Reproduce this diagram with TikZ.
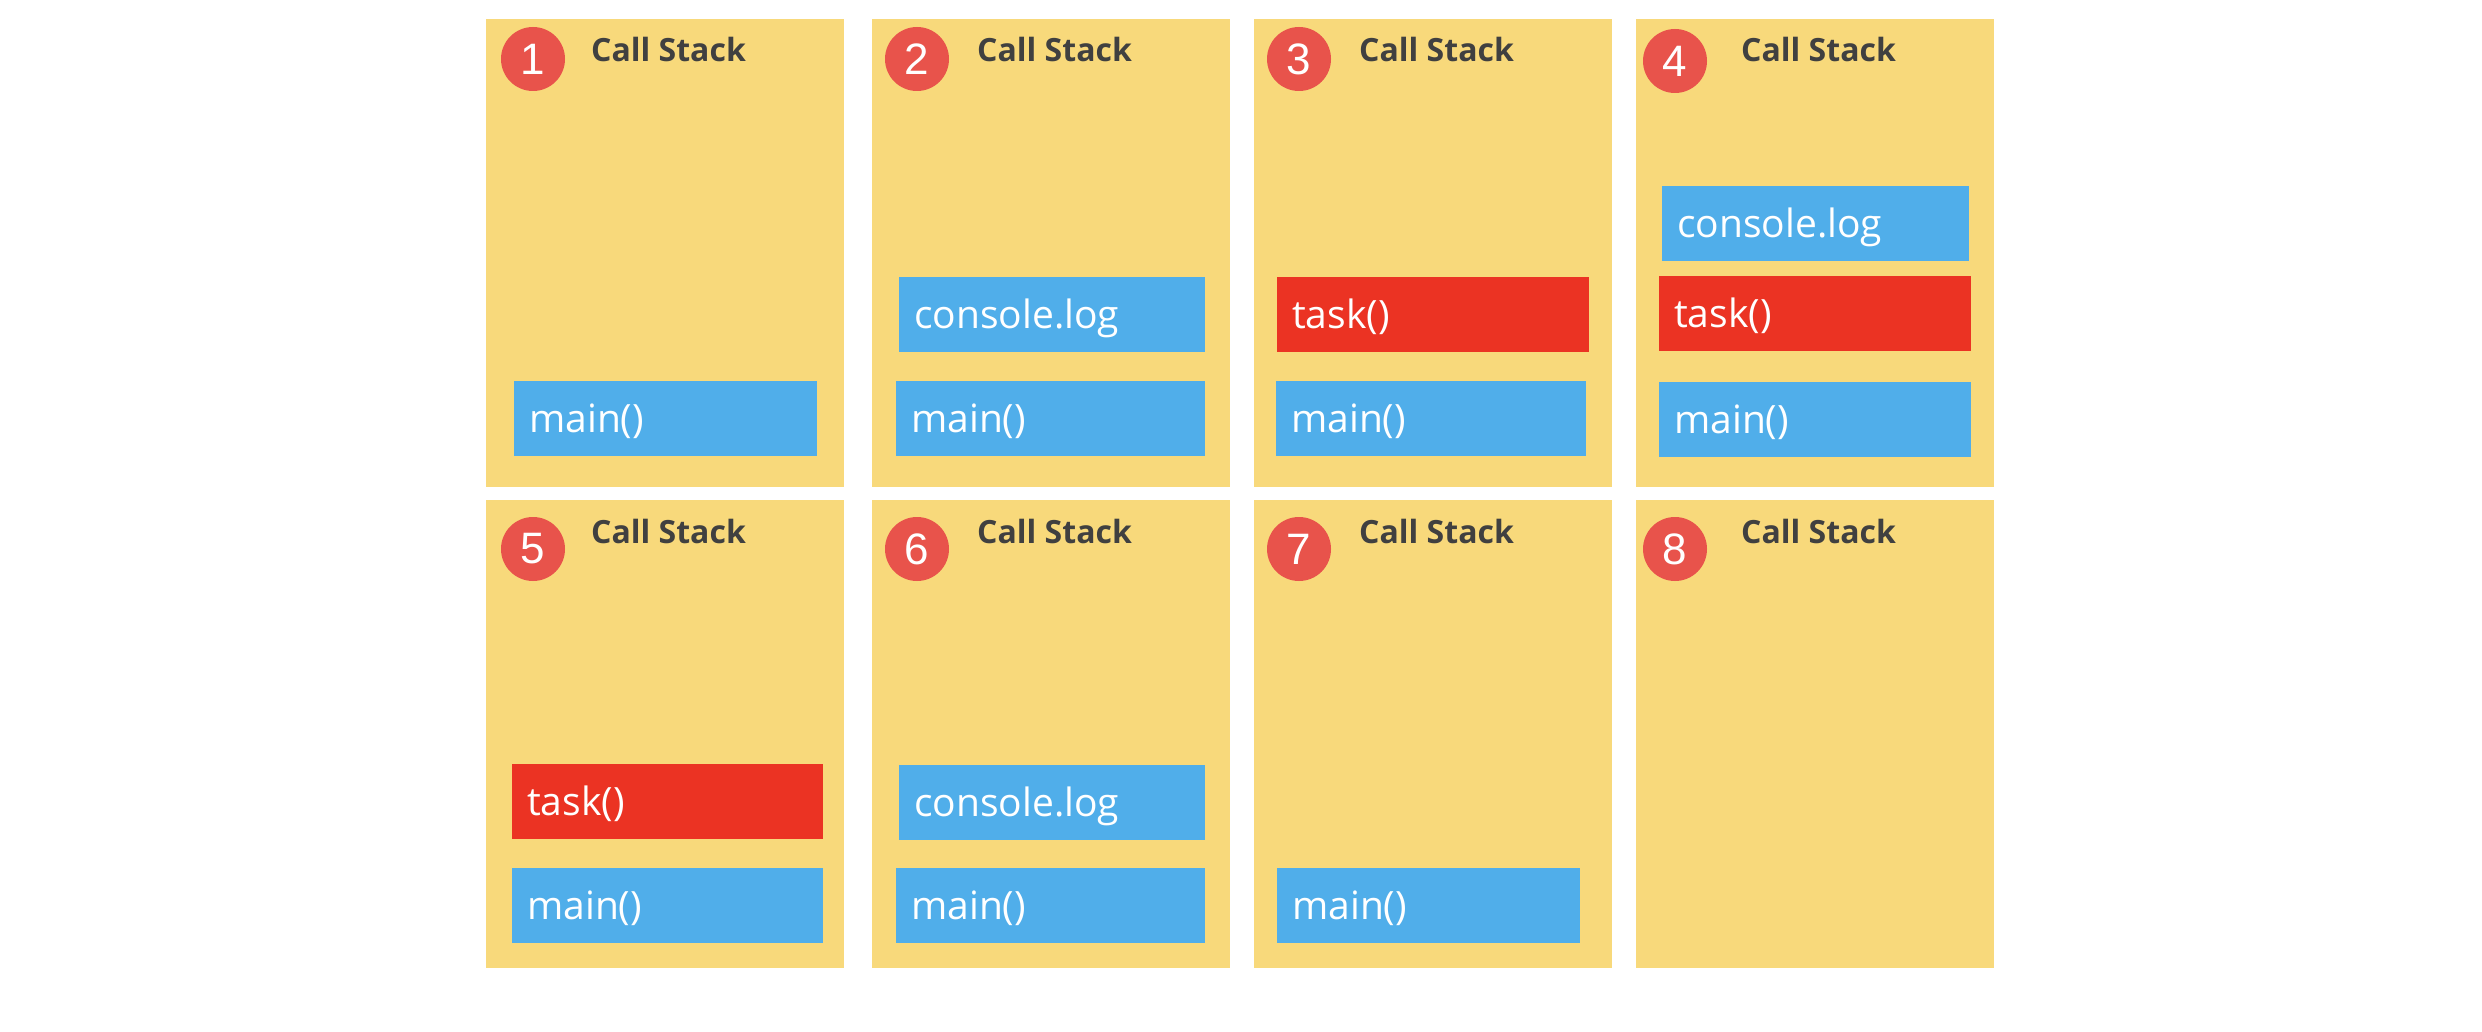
\documentclass[tikz,border=0pt]{standalone}
\usepackage{fontspec}
\setmainfont{Open Sans}
\newfontfamily\digitfont{Liberation Sans}
\usepackage{xcolor}

\definecolor{stackyellow}{RGB}{248,217,123}
\definecolor{frameblue}{RGB}{80,174,234}
\definecolor{framered}{RGB}{235,51,35}
\definecolor{badgered}{RGB}{232,83,75}
\definecolor{titlegray}{RGB}{64,64,64}

\tikzset{
  panel/.style={anchor=north west, fill=stackyellow, minimum width=358pt, minimum height=468pt, inner sep=0pt},
  badge/.style={circle, fill=badgered, minimum size=64pt, inner sep=0pt, text=white, font=\digitfont\fontsize{44}{44}\selectfont},
  title/.style={anchor=base west, inner sep=0pt, text=titlegray, font=\bfseries\fontsize{32}{32}\selectfont},
  slot/.style={anchor=north west, minimum height=75pt, inner xsep=15pt, inner ysep=0pt, text width=#1, text height=33pt, text depth=5pt, text=white, font=\fontsize{39}{39}\selectfont},
  slot/.default=280pt,
  callframe/.style={slot=#1, fill=frameblue}, callframe/.default=280pt,
  taskframe/.style={slot=#1, fill=framered}, taskframe/.default=280pt,
}

\begin{document}
\begin{tikzpicture}[x=1pt,y=-1pt]
        \path[use as bounding box] (0,0) rectangle (2482,1032);
        
        %Shape: Panels with badge and title
        \foreach \n/\x/\y/\bx/\by in {1/486/19/47/40, 2/872/19/45/40, 3/1254/19/45/40, 4/1636/19/39/42,
                                      5/486/500/47/49, 6/872/500/45/49, 7/1254/500/45/49, 8/1636/500/39/49} {
          \node[panel] (p\n) at (\x,\y) {};
          \node[badge] (b\n) at ([shift={(\bx,\by)}]p\n.north west) {\n};
          \node[title] (t\n) at ([shift={(105,43)}]p\n.north west) {Call Stack};
        }
        
        % Frames, row 1
        \node[callframe=273pt] (main1) at (514,381) {main()};
        \node[callframe=276pt] (log2) at (899,277) {console.log};
        \node[callframe=279pt] (main2) at (896,381) {main()};
        \node[taskframe=282pt] (task3) at (1277,277) {task()};
        \node[callframe=280pt] (main3) at (1276,381) {main()};
        \node[callframe=277pt] (log4) at (1662,186) {console.log};
        \node[taskframe=282pt] (task4) at (1659,276) {task()};
        \node[callframe=282pt] (main4) at (1659,382) {main()};
        
        % Frames, row 2
        \node[taskframe=281pt] (task5) at (512,764) {task()};
        \node[callframe=281pt] (main5) at (512,868) {main()};
        \node[callframe=276pt] (log6) at (899,765) {console.log};
        \node[callframe=279pt] (main6) at (896,868) {main()};
        \node[callframe=273pt] (main7) at (1277,868) {main()};
        
\end{tikzpicture}
\end{document}
